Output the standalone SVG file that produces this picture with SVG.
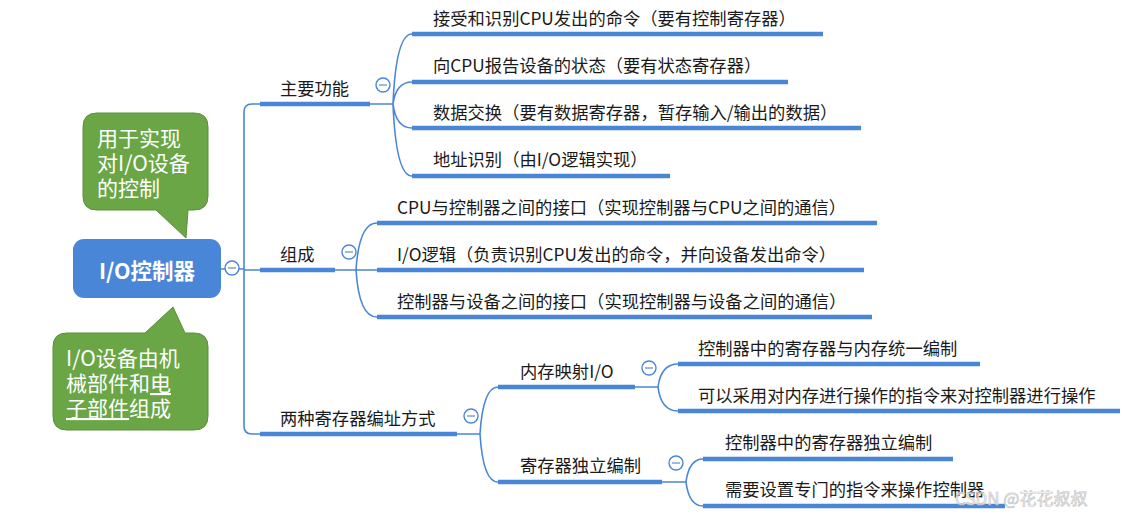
<svg xmlns="http://www.w3.org/2000/svg" width="1123" height="516" viewBox="0 0 1123 516">
<style>
text{font-family:"Noto Sans CJK SC","Noto Sans",sans-serif;dominant-baseline:central}
.t{font-size:17.3px;fill:#1a1a1a}
.bar{stroke:#4a86d8;stroke-width:4.5;fill:none}
.ln{stroke:#4a86d8;stroke-width:1.6;fill:none}
.cb circle{fill:#fff;stroke:#4a86d8;stroke-width:1.4}
.cb line{stroke:#7a9cc8;stroke-width:1.4}
.call{fill:#6aa646;stroke:#5a8f3a;stroke-width:1}
.ct{font-size:21px;fill:#fff}
</style>
<rect width="1123" height="516" fill="#fff"/>
<g id="connectors">
<path class="ln" d="M221,269 H244 M260,104 H252 Q244,104 244,112 V426 Q244,434 252,434 H260 M244,270 H260"/>
<path class="ln" d="M370,104 H393 M393,104 Q396,34 412,34 M393,104 Q396,82 412,82 M393,104 Q396,128 412,128 M393,104 Q396,176 412,176"/>
<path class="ln" d="M335,270 H377 M356,270 Q359,223 377,223 M356,270 Q359,317 377,317"/>
<path class="ln" d="M457,434 H480 M480,434 Q483,387 498,387 M480,434 Q483,482 498,482"/>
<path class="ln" d="M635,387 H658 M658,387 Q661,364 678,364 M658,387 Q661,411 678,411"/>
<path class="ln" d="M662,482 H686 M686,482 Q689,459 703,459 M686,482 Q689,506 703,506"/>
</g>
<g id="center">
<rect x="73" y="239" width="148" height="59" rx="11" fill="#4a86d8"/>
<text x="147" y="269" text-anchor="middle" style="font-size:21.5px;font-weight:bold;fill:#fff">I/O控制器</text>
<g class="cb"><circle cx="232" cy="268" r="7"/><line x1="228" y1="268" x2="236" y2="268"/></g>
</g>
<g id="callout1">
<path class="call" d="M97,113 H194 Q208,113 208,127 V196 Q208,210 194,210 H188 L186,238 L156,210 H97 Q83,210 83,196 V127 Q83,113 97,113 Z"/>
<text class="ct" x="97" y="137">用于实现<tspan x="97" dy="25">对I/O设备</tspan><tspan x="97" dy="25">的控制</tspan></text>
</g>
<g id="callout2">
<path class="call" d="M67,333 H145 L173,307 L185,333 H194 Q208,333 208,347 V416 Q208,430 194,430 H67 Q53,430 53,416 V347 Q53,333 67,333 Z"/>
<text class="ct" x="66" y="357">I/O设备由机<tspan x="66" dy="25">械部件和</tspan><tspan text-decoration="underline">电</tspan><tspan x="66" dy="25" text-decoration="underline">子部件</tspan><tspan>组成</tspan></text>
</g>
<g id="n-main">
<path class="bar" d="M260,104 H370"/>
<text class="t" x="280" y="87">主要功能</text>
<g class="cb"><circle cx="383" cy="85" r="7"/><line x1="379" y1="85" x2="387" y2="85"/></g>
</g>
<g id="n-main-1"><path class="bar" d="M412,34 H823"/><text class="t" x="433" y="17">接受和识别CPU发出的命令（要有控制寄存器）</text></g>
<g id="n-main-2"><path class="bar" d="M412,82 H788"/><text class="t" x="433" y="64">向CPU报告设备的状态（要有状态寄存器）</text></g>
<g id="n-main-3"><path class="bar" d="M412,128 H861"/><text class="t" x="433" y="111">数据交换（要有数据寄存器，暂存输入/输出的数据）</text></g>
<g id="n-main-4"><path class="bar" d="M412,176 H670"/><text class="t" x="433" y="158">地址识别（由I/O逻辑实现）</text></g>
<g id="n-comp">
<path class="bar" d="M260,270 H335"/>
<text class="t" x="280" y="253">组成</text>
<g class="cb"><circle cx="349" cy="252" r="7"/><line x1="345" y1="252" x2="353" y2="252"/></g>
</g>
<g id="n-comp-1"><path class="bar" d="M377,223 H877"/><text class="t" x="397" y="206">CPU与控制器之间的接口（实现控制器与CPU之间的通信）</text></g>
<g id="n-comp-2"><path class="bar" d="M377,270 H864"/><text class="t" x="397" y="253">I/O逻辑（负责识别CPU发出的命令，并向设备发出命令）</text></g>
<g id="n-comp-3"><path class="bar" d="M377,317 H872"/><text class="t" x="397" y="300">控制器与设备之间的接口（实现控制器与设备之间的通信）</text></g>
<g id="n-addr">
<path class="bar" d="M260,434 H457"/>
<text class="t" x="280" y="417">两种寄存器编址方式</text>
<g class="cb"><circle cx="471" cy="416" r="7"/><line x1="467" y1="416" x2="475" y2="416"/></g>
</g>
<g id="n-mmio">
<path class="bar" d="M498,387 H635"/>
<text class="t" x="520" y="370">内存映射I/O</text>
<g class="cb"><circle cx="649" cy="368" r="7"/><line x1="645" y1="368" x2="653" y2="368"/></g>
</g>
<g id="n-mmio-1"><path class="bar" d="M678,364 H980"/><text class="t" x="698" y="347">控制器中的寄存器与内存统一编制</text></g>
<g id="n-mmio-2"><path class="bar" d="M678,411 H1120"/><text class="t" x="698" y="394">可以采用对内存进行操作的指令来对控制器进行操作</text></g>
<g id="n-indep">
<path class="bar" d="M498,482 H662"/>
<text class="t" x="520" y="464">寄存器独立编制</text>
<g class="cb"><circle cx="676" cy="463" r="7"/><line x1="672" y1="463" x2="680" y2="463"/></g>
</g>
<g id="n-indep-1"><path class="bar" d="M703,459 H953"/><text class="t" x="725" y="441">控制器中的寄存器独立编制</text></g>
<g id="n-indep-2"><path class="bar" d="M703,506 H1005"/><text class="t" x="725" y="488">需要设置专门的指令来操作控制器</text></g>
<text x="955" y="497" style="font-size:17px;fill:#ffffff;fill-opacity:0.6;stroke:#c4c4c4;stroke-width:0.7">CSDN @花花叔叔</text>
</svg>
